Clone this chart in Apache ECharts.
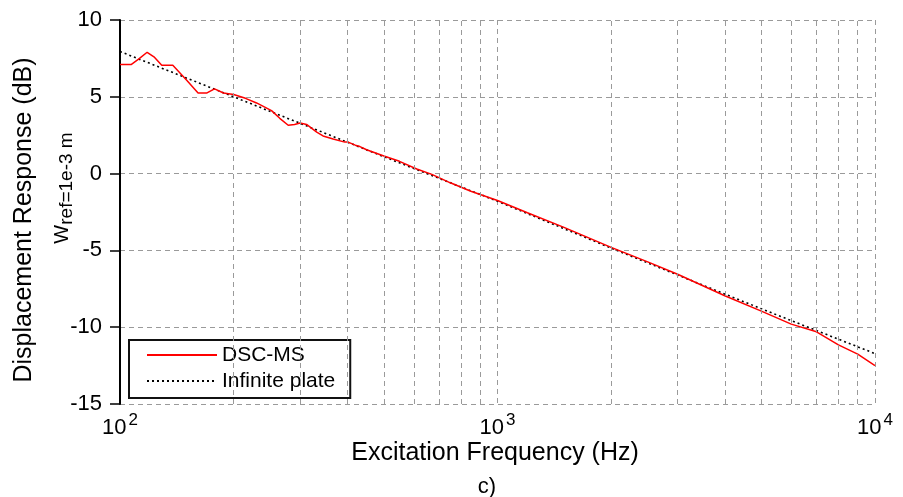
<!DOCTYPE html>
<html>
<head>
<meta charset="utf-8">
<script src="https://cdn.jsdelivr.net/npm/echarts@6/dist/echarts.min.js"></script>
<style>
html,body{margin:0;padding:0;background:#fff;}
#chart{width:903px;height:497px;}
</style>
</head>
<body>
<div id="chart"></div>
<script>
// ---- data ----
const dscFreq = [100,107,112,118,123,129,138,150,161,170,178,188,200,215,230,252,265,279,290,300,312,332,345,367,394,402,420,432,450,500,550,611,670,750,850,1000,1200,1500,2000,2500,3000,3500,4000,5000,6000,7000,8000,9000,10000];
const dscDb   = [7.1,7.1,7.45,7.9,7.6,7.05,7.05,6.1,5.25,5.25,5.52,5.25,5.15,4.9,4.6,4.1,3.6,3.15,3.2,3.3,3.2,2.7,2.45,2.25,2.05,2.05,1.85,1.76,1.55,1.15,0.8,0.3,-0.05,-0.6,-1.15,-1.75,-2.55,-3.5,-4.8,-5.75,-6.55,-7.3,-7.95,-8.95,-9.8,-10.3,-11.15,-11.75,-12.5];
const plateFreq = [100,200,500,1000,2000,5000,10000];
const plateDb   = [7.95,5.0,1.1,-1.8,-4.85,-8.8,-11.72];
const xTickValues = [100,1000,10000];
const xTickExps = ['2','3','4'];
const minorGridFreqs = [200,300,400,500,600,700,800,900,2000,3000,4000,5000,6000,7000,8000,9000];
const yTicks = [-15,-10,-5,0,5,10];
const seriesNames = ['DSC-MS','Infinite plate'];
const xTitle = 'Excitation Frequency (Hz)';
const yTitle = 'Displacement Response (dB)';
const yTitle2Main = 'W';
const yTitle2Sub = 'ref=1e-3 m';
const caption = 'c)';

const FONT = '"Liberation Sans", Arial, sans-serif';
const GRID_COLOR = '#9a9a9a';

const chart = echarts.init(document.getElementById('chart'), null, {renderer:'canvas'});
const zip = (a,b) => a.map((v,i)=>[v,b[i]]);

const option = {
  backgroundColor:'#fff',
  animation:false,
  textStyle:{fontFamily:FONT},
  grid:{left:120,right:28,top:20,bottom:93,containLabel:false},
  xAxis:{
    type:'log', logBase:10, min:100, max:10000,
    axisLine:{show:false}, axisTick:{show:false},
    splitLine:{show:true,lineStyle:{color:GRID_COLOR,type:[5,4],width:1}},
    axisLabel:{
      margin:8,
      formatter:function(v){
        const i = xTickValues.indexOf(Math.round(v));
        return i<0 ? '' : '{b|10}{s|'+xTickExps[i]+'}';
      },
      rich:{
        b:{fontSize:22,color:'#000',fontFamily:FONT},
        s:{fontSize:17,color:'#000',fontFamily:FONT,padding:[0,0,14,2]}
      }
    }
  },
  yAxis:{
    type:'value', min:yTicks[0], max:yTicks[yTicks.length-1], interval:5,
    axisLine:{show:true,lineStyle:{color:'#000',width:2}},
    axisTick:{show:true,length:10,lineStyle:{color:'#000',width:1.5}},
    axisLabel:{fontSize:22,color:'#000',margin:18,fontFamily:FONT},
    splitLine:{show:true,lineStyle:{color:GRID_COLOR,type:[5,4],width:1}}
  },
  legend:{
    orient:'vertical', left:129, top:340,
    backgroundColor:'#fff', borderColor:'#111', borderWidth:2, borderRadius:0,
    padding:[4,15,6,17], itemGap:4, itemWidth:70, itemHeight:14,
    itemStyle:{opacity:0},
    textStyle:{fontSize:21,color:'#000',fontFamily:FONT,lineHeight:22},
    data:seriesNames
  },
  series:[
    {
      name:'grid-minor', type:'line', data:[], silent:true, z:1,
      markLine:{
        silent:true, symbol:['none','none'], label:{show:false},
        lineStyle:{color:GRID_COLOR,type:[5,4],width:1},
        emphasis:{disabled:true},
        data:minorGridFreqs.map(f=>({xAxis:f}))
      }
    },
    {
      name:seriesNames[1], type:'line', data:zip(plateFreq,plateDb), showSymbol:false, symbol:'none', z:3,
      lineStyle:{color:'#000',width:1.6,type:[2,3]}, itemStyle:{color:'#000'}
    },
    {
      name:seriesNames[0], type:'line', data:zip(dscFreq,dscDb), showSymbol:false, symbol:'none', z:4,
      lineStyle:{color:'#ff0000',width:1.5}, itemStyle:{color:'#ff0000'}
    }
  ],
  graphic:[
    {type:'text', x:495, y:453, style:{text:xTitle, fontSize:25, fill:'#000', fontFamily:FONT, textAlign:'center', textVerticalAlign:'middle'}},
    {type:'text', x:487, y:487, style:{text:caption, fontSize:22, fill:'#000', fontFamily:FONT, textAlign:'center', textVerticalAlign:'middle'}},
    {type:'text', x:24, y:220, rotation:Math.PI/2, style:{text:yTitle, fontSize:25, fill:'#000', fontFamily:FONT, textAlign:'center', textVerticalAlign:'middle'}},
    {type:'text', x:62, y:188, rotation:Math.PI/2, style:{
      text:'{w|'+yTitle2Main+'}{r|'+yTitle2Sub+'}', textAlign:'center', textVerticalAlign:'middle',
      rich:{w:{fontSize:20,fill:'#000',fontFamily:FONT,padding:[0,0,0,0]},
            r:{fontSize:19,fill:'#000',fontFamily:FONT,padding:[10,0,0,0]}}
    }}
  ]
};
chart.setOption(option);
</script>
</body>
</html>
